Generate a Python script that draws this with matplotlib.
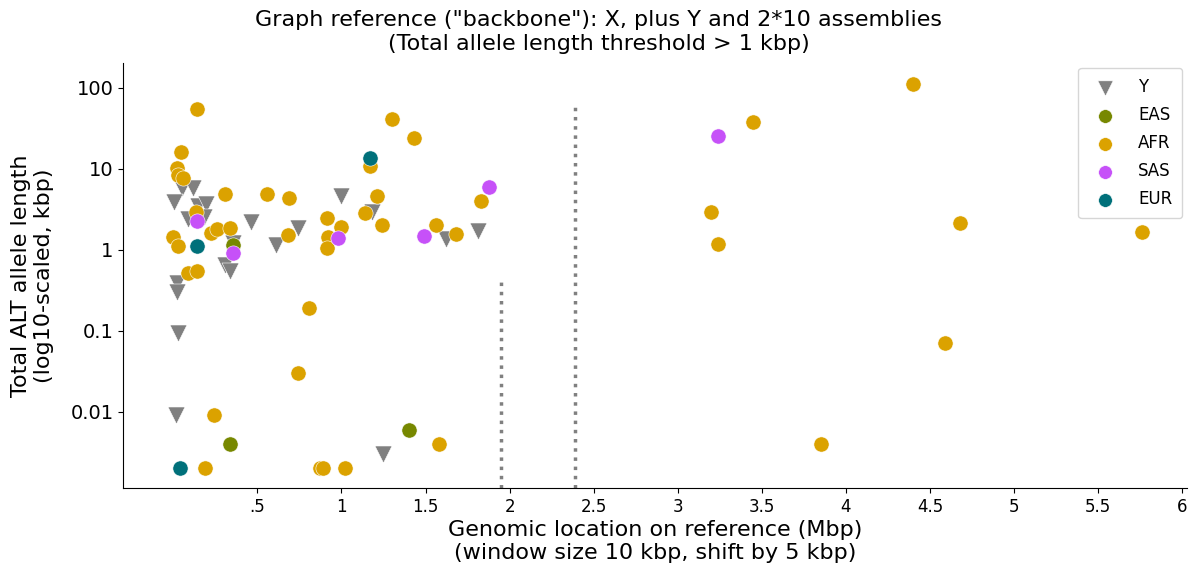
import matplotlib
matplotlib.use('Agg')
import matplotlib.pyplot as plt
import numpy as np

# window positions (Mbp) and total ALT allele length (kbp) per group
y_x = [0.054, 0.12, 0.006, 0.15, 0.195, 0.09, 0.18, 0.46, 0.61, 0.74, 1.00, 1.18,
       1.62, 1.81, 0.31, 0.34, 0.024, 0.024, 0.03, 0.018, 1.25, 0.357]
y_y = [5.8, 5.8, 3.9, 3.5, 3.7, 2.4, 2.5, 2.2, 1.15, 1.85, 4.6, 2.9,
       1.35, 1.72, 0.65, 0.55, 0.39, 0.30, 0.094, 0.009, 0.003, 1.22]

eas_x = [0.357, 0.34, 1.40]
eas_y = [1.15, 0.004, 0.006]

afr_x = [0.143, 0.048, 0.024, 0.03, 0.06, 0.31, 0.56, 0.69, 0.137, 0.0, 0.03,
         0.226, 0.26, 0.34, 0.09, 0.143, 0.81, 0.74, 0.24, 0.19, 0.87, 0.89,
         1.02, 1.58, 0.68, 0.915, 1.00, 0.92, 0.915, 1.30, 1.43, 1.17, 1.21,
         1.14, 1.24, 1.56, 1.68, 1.83, 3.45, 3.20, 3.24, 4.40, 4.68, 5.76,
         4.59, 3.85]
afr_y = [55, 15.8, 10.3, 8.4, 7.7, 4.9, 4.8, 4.3, 2.95, 1.45, 1.12,
         1.62, 1.8, 1.87, 0.51, 0.55, 0.19, 0.030, 0.009, 0.002, 0.002, 0.002,
         0.002, 0.004, 1.53, 2.48, 1.92, 1.45, 1.06, 41, 24, 10.9, 4.6,
         2.86, 2.0, 2.0, 1.58, 4.0, 38, 2.9, 1.19, 110, 2.15, 1.67,
         0.071, 0.004]

sas_x = [0.143, 0.357, 0.98, 1.49, 1.88, 3.24]
sas_y = [2.28, 0.9, 1.41, 1.49, 6.0, 25]

eur_x = [0.143, 1.17, 0.04]
eur_y = [1.12, 13.7, 0.002]

xticks = [0.5, 1, 1.5, 2, 2.5, 3, 3.5, 4, 4.5, 5, 5.5, 6]
xtick_labels = ['.5', '1', '1.5', '2', '2.5', '3', '3.5', '4', '4.5', '5', '5.5', '6']
yticks = [0.01, 0.1, 1, 10, 100]
ytick_labels = ['0.01', '0.1', '1', '10', '100']

# dotted markers: (position, top of the line)
vlines = [(1.95, 0.45), (2.39, 60)]

fig = plt.figure(figsize=(11.97, 5.74), dpi=100)
ax = fig.add_axes([0.103, 0.150, 0.889, 0.740])

ax.scatter(y_x, y_y, marker='v', s=150, color='#808080', label='Y', zorder=2,
           edgecolors='white', linewidths=0.4)
ax.scatter(eas_x, eas_y, marker='o', s=120, color='#778800', label='EAS', zorder=3,
           edgecolors='white', linewidths=0.4)
ax.scatter(afr_x, afr_y, marker='o', s=120, color='#DBA200', label='AFR', zorder=4,
           edgecolors='white', linewidths=0.4)
ax.scatter(sas_x, sas_y, marker='o', s=120, color='#C651F8', label='SAS', zorder=5,
           edgecolors='white', linewidths=0.4)
ax.scatter(eur_x, eur_y, marker='o', s=120, color='#00707A', label='EUR', zorder=6,
           edgecolors='white', linewidths=0.4)

ax.set_yscale('log')
ax.set_xlim(-0.297, 6.03)
ax.set_ylim(0.00115, 200)

for xpos, top in vlines:
    ax.plot([xpos, xpos], [0.00115, top], linestyle=':', color='#808080',
            linewidth=2.5, zorder=1)

ax.set_xticks(xticks)
ax.set_xticklabels(xtick_labels, fontsize=12, family=['Liberation Sans Narrow', 'DejaVu Sans'])
ax.set_yticks(yticks)
ax.set_yticklabels(ytick_labels, fontsize=14)
ax.minorticks_off()

ax.spines['top'].set_visible(False)
ax.spines['right'].set_visible(False)

fig.suptitle('Graph reference ("backbone"): X, plus Y and 2*10 assemblies\n'
             '(Total allele length threshold > 1 kbp)', fontsize=16, x=0.5, y=0.982,
             va='top')
ax.set_xlabel('Genomic location on reference (Mbp)\n(window size 10 kbp, shift by 5 kbp)',
              fontsize=16, labelpad=3)
ax.set_ylabel('Total ALT allele length\n(log10-scaled, kbp)', fontsize=16, labelpad=12)

ax.legend(loc='upper right', fontsize=12, frameon=True, labelspacing=0.6,
          markerscale=0.9, handletextpad=1.0, borderpad=0.6, borderaxespad=0.3)

fig.savefig('out.png', dpi=100)
